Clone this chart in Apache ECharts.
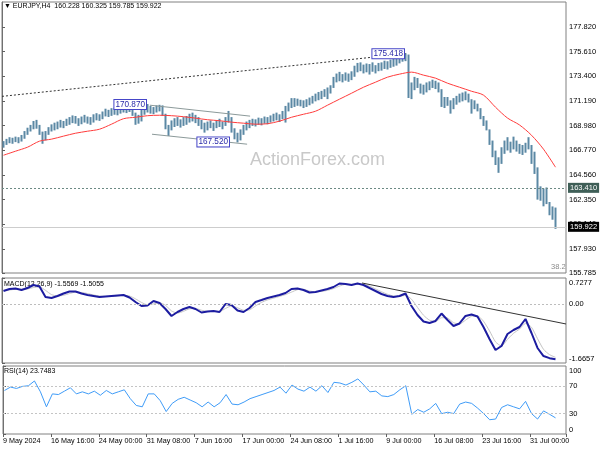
<!DOCTYPE html>
<html><head><meta charset="utf-8">
<script src="https://cdn.jsdelivr.net/npm/echarts@6/dist/echarts.min.js"></script>
<style>html,body{margin:0;padding:0;background:#fff}#c{width:600px;height:450px}</style>
</head><body><div id="c"></div>
<script>
// ---- data (8-hour bars from 9 May 2024 08:00) ----
const xTickLabels = ["9 May 2024","16 May 16:00","24 May 00:00","31 May 08:00","7 Jun 16:00","17 Jun 00:00","24 Jun 08:00","1 Jul 16:00","9 Jul 00:00","16 Jul 08:00","23 Jul 16:00","31 Jul 00:00"];
const barLow = [167.05,167.30,167.45,167.40,167.55,167.45,167.60,167.85,168.20,168.50,168.70,168.75,168.20,167.40,167.70,168.20,168.50,168.60,168.70,168.85,168.80,169.00,169.10,169.25,169.20,169.00,169.15,169.30,169.20,169.10,169.30,169.50,169.45,169.60,169.85,169.80,169.90,170.00,169.95,170.10,170.20,170.15,170.25,169.90,169.10,169.20,169.40,170.00,170.20,170.10,170.05,170.20,170.30,169.90,168.70,168.10,168.60,168.90,169.00,168.85,169.00,169.10,169.30,169.40,169.25,169.00,168.70,168.40,168.60,168.80,168.55,168.80,168.90,168.70,169.00,169.30,168.40,167.80,167.52,167.70,168.20,168.60,168.80,169.00,168.95,169.10,169.05,169.20,169.15,169.30,169.40,169.50,169.35,169.60,169.30,170.30,170.60,170.70,170.80,170.75,170.60,170.70,170.85,171.00,171.20,171.30,171.40,171.60,171.40,171.90,172.40,172.90,173.00,172.90,173.05,172.95,173.10,173.40,173.80,173.90,173.70,173.80,173.60,173.85,173.70,173.90,173.95,174.10,174.05,174.20,174.30,174.40,174.60,174.75,174.80,171.50,171.40,172.20,172.40,171.90,171.80,172.00,172.20,172.40,172.30,172.00,170.70,170.60,170.80,170.10,170.50,170.90,171.10,171.20,171.30,171.10,170.10,170.50,170.30,169.60,169.00,168.60,167.30,166.20,165.50,164.80,165.60,166.50,166.80,166.60,166.90,166.70,166.50,166.40,166.60,166.90,165.60,164.70,162.40,162.30,161.80,162.00,161.00,160.60,159.785];
const barHigh = [167.55,167.75,167.90,167.85,167.95,167.90,168.10,168.45,168.75,169.00,169.35,169.45,169.00,168.40,168.45,168.80,169.05,169.20,169.30,169.45,169.35,169.55,169.70,169.85,169.80,169.60,169.75,169.90,169.75,169.70,169.95,170.05,169.95,170.20,170.45,170.35,170.50,170.55,170.50,170.65,170.75,170.70,170.80,170.50,170.10,169.90,170.35,170.60,170.87,170.70,170.60,170.75,170.80,170.75,170.00,169.00,169.40,169.60,169.70,169.50,169.70,169.80,170.00,170.10,169.90,169.70,169.45,169.20,169.30,169.40,169.20,169.40,169.55,169.30,169.70,170.25,169.70,168.70,168.30,168.60,169.00,169.30,169.45,169.55,169.50,169.65,169.60,169.75,169.70,169.85,170.00,170.10,169.95,170.25,170.70,171.00,171.40,171.40,171.35,171.25,171.20,171.30,171.45,171.60,171.80,171.95,172.05,172.20,172.35,172.55,173.30,173.60,173.75,173.55,173.70,173.60,173.80,174.30,174.55,174.60,174.40,174.50,174.45,174.60,174.35,174.55,174.60,174.75,174.70,174.85,174.95,175.10,175.25,175.35,175.418,175.30,172.80,173.30,173.20,172.70,172.60,172.80,172.90,173.05,172.95,172.80,172.20,171.50,171.50,171.20,171.40,171.60,171.80,171.90,172.00,171.80,171.30,171.20,170.90,170.50,169.80,169.40,168.60,167.60,166.70,166.10,167.00,167.60,167.90,167.50,167.95,167.60,167.30,167.20,167.40,167.90,167.20,166.60,165.20,163.50,163.30,163.40,162.10,161.70,161.60];
// moving average, one value every 4 bars
const maValues = [166.33,166.69,167.05,167.59,167.77,168.04,168.30,168.48,168.66,169.11,169.60,169.73,169.87,169.91,169.87,169.78,169.65,169.51,169.42,169.29,169.20,169.11,169.15,169.38,169.73,170.00,170.27,170.81,171.35,171.88,172.42,172.87,173.32,173.59,173.77,173.50,173.23,172.78,172.42,172.06,171.71,170.63,169.66,169.04,168.12,166.87,165.26];
// MACD main / signal, one value every 2 bars
const macdMain = [0.362,0.418,0.432,0.390,0.446,0.531,0.488,0.193,0.165,0.221,0.291,0.348,0.348,0.291,0.249,0.221,0.193,0.207,0.221,0.235,0.249,0.179,0.052,-0.060,-0.046,0.080,0.024,-0.145,-0.342,-0.230,-0.145,-0.089,-0.145,-0.244,-0.216,-0.201,-0.230,-0.004,-0.032,-0.187,-0.230,-0.117,0.052,0.108,0.165,0.207,0.249,0.305,0.418,0.432,0.390,0.319,0.334,0.376,0.418,0.474,0.573,0.559,0.531,0.573,0.531,0.446,0.362,0.277,0.221,0.193,0.221,0.291,-0.060,-0.314,-0.497,-0.539,-0.483,-0.272,-0.455,-0.624,-0.553,-0.342,-0.300,-0.356,-0.652,-0.990,-1.299,-1.187,-0.849,-0.736,-0.652,-0.427,-0.821,-1.243,-1.470,-1.530,-1.557];
const macdSignal = [0.38,0.39,0.41,0.41,0.42,0.46,0.48,0.38,0.26,0.22,0.24,0.29,0.33,0.32,0.29,0.25,0.22,0.21,0.21,0.22,0.24,0.22,0.14,0.04,-0.03,0.00,0.03,-0.04,-0.20,-0.26,-0.21,-0.14,-0.13,-0.18,-0.21,-0.21,-0.22,-0.13,-0.06,-0.11,-0.18,-0.17,-0.06,0.04,0.11,0.16,0.21,0.26,0.33,0.40,0.41,0.36,0.34,0.35,0.38,0.43,0.50,0.55,0.55,0.56,0.55,0.50,0.42,0.34,0.27,0.22,0.21,0.24,0.13,-0.10,-0.32,-0.46,-0.50,-0.39,-0.40,-0.53,-0.57,-0.46,-0.35,-0.34,-0.49,-0.76,-1.07,-1.19,-1.00,-0.83,-0.71,-0.55,-0.66,-0.98,-1.28,-1.43,-1.5055];
// RSI(14), one value every 2 bars
const rsiValues = [64,69,67,70,71,78,62,40,59,58,63,68,59,62,59,63,57,64,59,62,65,52,42,40,59,59,49,33,45,51,54,50,46,40,47,40,46,58,44,43,47,52,55,58,61,64,69,60,72,66,63,69,63,71,61,76,75,72,76,81,72,62,63,56,55,58,65,71,29,36,32,37,45,30,32,30,44,47,45,38,30,21,22,39,43,40,37,48,30,22,34,29,23.75];
const priceTicks = [155.785,157.930,160.140,162.350,164.560,166.770,168.980,171.190,173.400,175.610,177.820];
const macdTicks = [-1.6657,0,0.7277];
const rsiTicks = [0,30,70,100];
const priceLevels = {resistance:163.410, last:159.922};
const swingLabels = [[48,170.870],[78,167.520],[134,175.418]];
const trendLine = [[0,171.60],[134.5,175.418]];
const channelUpper = [[49.3,170.81],[82.7,169.83]];
const channelLower = [[50,168.21],[81.7,167.32]];
const macdTrend = [[120,0.587],[188,-0.567]];

const FONT = 'Liberation Sans';
const chart = echarts.init(document.getElementById('c'), null, {renderer:'canvas'});
const barData = barHigh.map((h,i)=>[i+0.5, barLow[i], h]);
const maData = maValues.map((v,j)=>[4*j+0.5, v]);
const macdData = macdMain.map((v,k)=>[2*k+0.5, v]);
const sigData = macdSignal.map((v,k)=>[2*k+0.5, v]);
const rsiData = rsiValues.map((v,k)=>[2*k+0.5, v]);

const axLab = {fontFamily:FONT, fontSize:7.5, color:'#000'};
function xAx(idx, showLabels){
  return {type:'value', gridIndex:idx, min:0, max:188, interval:16,
    axisLine:{show:false}, splitLine:{show:false},
    axisTick:{show:showLabels, length:3, lineStyle:{color:'#606060'}},
    axisLabel:Object.assign({show:showLabels, align:'left', margin:4,
      formatter:v=>xTickLabels[Math.round(v/16)]||''}, axLab, {fontSize:7.2})};
}
function yAx(idx, min, max, ticks, fmt){
  return {type:'value', gridIndex:idx, position:'right', min:min, max:max, scale:true,
    axisLine:{show:true, lineStyle:{color:'#707070'}},
    splitLine:{show:false},
    axisTick:{show:true, length:3, customValues:ticks, lineStyle:{color:'#606060'}},
    axisLabel:Object.assign({customValues:ticks, margin:3, formatter:fmt,
      rich:{top:{padding:[9,0,0,0], fontFamily:FONT, fontSize:7.5}, bot:{padding:[0,0,9,0], fontFamily:FONT, fontSize:7.5}}}, axLab)};
}
const gridStyle = {show:true, borderColor:'#808080', borderWidth:1, backgroundColor:'#fff'};
const boxLabel = {show:true, position:'left', distance:1, fontFamily:FONT, fontSize:8.2, color:'#2a2aa8',
  backgroundColor:'#fff', borderColor:'#4646c8', borderWidth:1, padding:[1,1,0,1]};

chart.setOption({
  animation:false,
  backgroundColor:'#fff',
  grid:[
    Object.assign({left:2, right:34, top:2, height:271}, gridStyle),
    Object.assign({left:2, right:34, top:278, height:85}, gridStyle),
    Object.assign({left:2, right:34, top:366, height:68}, gridStyle)
  ],
  xAxis:[xAx(0,false), xAx(1,false), xAx(2,true)],
  yAxis:[
    yAx(0, 155.785, 180.05, priceTicks, v=>v.toFixed(3)),
    yAx(1, -1.6657, 0.7277, macdTicks, v=> v===0 ? '0.00' : (v>0 ? '{top|'+v.toFixed(4)+'}' : '{bot|'+v.toFixed(4)+'}')),
    yAx(2, 0, 100, rsiTicks, v=> v===100 ? '{top|100}' : (v===0 ? '{bot|0}' : String(v)))
  ],
  graphic:[
    {type:'text', left:4, top:3, style:{text:'\u25BC EURJPY,H4  160.228 160.325 159.785 159.922', font:'7px "'+FONT+'"', fill:'#000'}},
    {type:'text', left:250, top:151, style:{text:'ActionForex.com', font:'18px "'+FONT+'"', fill:'#c9c9c9'}},
    {type:'text', left:551, top:263, style:{text:'38.2', font:'7.5px "'+FONT+'"', fill:'#8a8a8a'}},
    {type:'text', left:4, top:281, style:{text:'MACD(12,26,9) -1.5569 -1.5055', font:'7px "'+FONT+'"', fill:'#000'}},
    {type:'text', left:4, top:368, style:{text:'RSI(14) 23.7483', font:'7px "'+FONT+'"', fill:'#000'}}
  ],
  series:[
    {type:'custom', name:'EURJPY', xAxisIndex:0, yAxisIndex:0, data:barData,
      encode:{x:0, y:[1,2]},
      renderItem:function(params, api){
        const x = api.value(0);
        const lo = api.coord([x, api.value(1)]);
        const hi = api.coord([x, api.value(2)]);
        return {type:'line', shape:{x1:lo[0], y1:lo[1]+0.5, x2:hi[0], y2:hi[1]-0.5},
          style:{stroke:'#5b88a4', lineWidth:2}};
      }},
    {type:'line', name:'MA', xAxisIndex:0, yAxisIndex:0, data:maData, showSymbol:false, smooth:0.3,
      lineStyle:{color:'#ff3c3c', width:1}, z:3,
      markLine:{silent:true, symbol:['none','none'], animation:false,
        label:{show:false},
        data:[
          [{coord:trendLine[0]},{coord:trendLine[1], lineStyle:{color:'#333', type:[2,2], width:1}}],
          [{coord:channelUpper[0]},{coord:channelUpper[1], lineStyle:{color:'#8c9a9a', type:'solid', width:1}}],
          [{coord:channelLower[0]},{coord:channelLower[1], lineStyle:{color:'#8c9a9a', type:'solid', width:1}}],
          {yAxis:priceLevels.resistance, lineStyle:{color:'#6c8a84', type:[2,2], width:1},
            label:{show:true, position:'end', distance:2, formatter:priceLevels.resistance.toFixed(3), fontFamily:FONT, fontSize:7.5, color:'#fff', backgroundColor:'#3f5f57', padding:[1,2,1,2]}},
          {yAxis:priceLevels.last, lineStyle:{color:'#cdcdcd', type:'solid', width:1},
            label:{show:true, position:'end', distance:2, formatter:priceLevels.last.toFixed(3), fontFamily:FONT, fontSize:7.5, color:'#fff', backgroundColor:'#000', padding:[1,2,1,2]}}
        ]},
      markPoint:{silent:true, symbol:'rect', symbolSize:[1,1], itemStyle:{color:'rgba(0,0,0,0)'},
        data:swingLabels.map(s=>({coord:[s[0]+0.5, s[1]], value:s[1],
          label:Object.assign({}, boxLabel, {formatter:s[1].toFixed(3), distance: s[1]===167.520 ? 8 : 1})}))}
    },
    {type:'line', name:'MACD', xAxisIndex:1, yAxisIndex:1, data:macdData, showSymbol:false,
      lineStyle:{color:'#1c1ca0', width:2}, z:4,
      markLine:{silent:true, symbol:['none','none'], label:{show:false},
        data:[
          {yAxis:0, lineStyle:{color:'#bdbdbd', type:[2,2], width:1}},
          [{coord:macdTrend[0]},{coord:macdTrend[1], lineStyle:{color:'#333', type:'solid', width:1}}]
        ]}},
    {type:'line', name:'Signal', xAxisIndex:1, yAxisIndex:1, data:sigData, showSymbol:false, smooth:0.2,
      lineStyle:{color:'#c4c4c4', width:1}, z:3},
    {type:'line', name:'RSI', xAxisIndex:2, yAxisIndex:2, data:rsiData, showSymbol:false,
      lineStyle:{color:'#3f9cf8', width:1},
      markLine:{silent:true, symbol:['none','none'], label:{show:false},
        data:[
          {yAxis:70, lineStyle:{color:'#c4c4c4', type:[2,2], width:1}},
          {yAxis:30, lineStyle:{color:'#c4c4c4', type:[2,2], width:1}}
        ]}}
  ]
});
</script></body></html>
